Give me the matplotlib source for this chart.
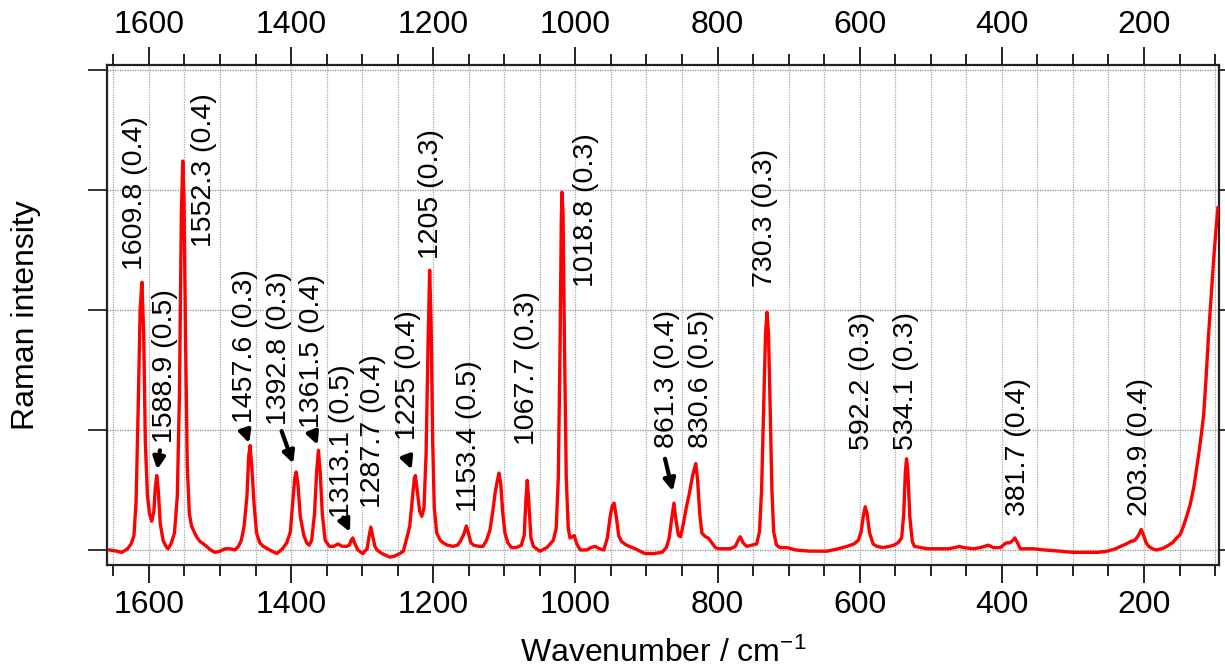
import matplotlib
matplotlib.use("Agg")
import matplotlib.pyplot as plt
from matplotlib.ticker import MultipleLocator, NullFormatter

plt.rcParams["font.family"] = ["Liberation Sans", "DejaVu Sans"]
plt.rcParams["mathtext.default"] = "regular"

# --- spectrum (wavenumber / cm-1, intensity in arbitrary units) ---
wavenumber = [
    1655, 1645, 1638, 1630, 1625, 1621, 1618, 1615, 1612.3, 1609.8, 1607.3, 1605,
    1602, 1599, 1596, 1593, 1591, 1588.9, 1586.8, 1584, 1580, 1576, 1573, 1569,
    1564, 1560, 1557, 1554.3, 1552.3, 1550.5, 1548.5, 1546, 1543, 1540, 1537, 1533,
    1528, 1523, 1519, 1513, 1507, 1500, 1493, 1486, 1479, 1474, 1470, 1466, 1462,
    1459.6, 1457.6, 1455.3, 1452, 1448.5, 1444, 1439, 1430, 1420, 1412, 1406, 1401,
    1397.5, 1394.8, 1392.8, 1390.3, 1387, 1382, 1378, 1374.5, 1371, 1367, 1364,
    1361.5, 1359, 1356, 1352, 1346, 1340, 1334, 1328, 1322, 1318, 1315.5, 1313.1,
    1310.8, 1306, 1299, 1293, 1290, 1287.7, 1285.3, 1282, 1279, 1272, 1261, 1254,
    1247, 1242, 1238, 1233, 1229, 1226.5, 1225, 1222.5, 1219, 1216, 1213, 1210,
    1207.3, 1205, 1203, 1200.7, 1198.5, 1195, 1190, 1186, 1180, 1172, 1166, 1162,
    1157, 1153.4, 1150, 1147, 1143, 1136, 1130, 1125, 1120, 1116, 1113, 1110,
    1107.5, 1105, 1102, 1099, 1095, 1090, 1083, 1076, 1072, 1069.5, 1067.7, 1065.5,
    1062.5, 1059, 1050, 1040, 1031, 1027, 1024, 1021.5, 1019.8, 1018.8, 1017.3,
    1015.3, 1012.8, 1010, 1007.5, 1004, 1001.5, 998, 993, 984, 978, 972, 966, 960,
    955, 951, 948, 945.5, 942.5, 939, 935, 928, 916, 902, 890, 878, 872, 868, 864,
    861.3, 859, 855, 852, 848, 844, 840, 835, 830.6, 828, 825, 822, 817, 813, 808,
    803, 798, 790, 782, 775, 771, 768, 764, 759, 752, 745, 741, 738, 735, 732.5,
    730.3, 728.3, 726, 723.5, 721, 717, 712, 702, 690, 670, 646, 630, 618, 608, 602,
    598, 595, 592.2, 589.5, 586, 581, 576, 567, 558, 552, 546, 541, 538, 535.8,
    534.1, 532.2, 529.5, 526, 523, 514, 505, 490, 475, 466, 460, 454, 440, 430, 419,
    412, 402, 396, 393, 389, 384.5, 381.7, 378, 374, 356, 340, 318, 300, 285, 265,
    252, 240, 233, 225, 219, 213, 208, 203.9, 200.5, 197, 193.5, 188, 183, 175, 168,
    160, 154, 149, 145, 140, 135, 130, 126, 122, 119, 116, 112.5, 109, 105.5, 102,
    99, 96,
]
intensity = [
    0.00, -0.01, -0.02, 0.01, 0.05, 0.12, 0.40, 1.20, 2.00, 2.23, 1.80, 0.90,
    0.45, 0.30, 0.24, 0.32, 0.52, 0.62, 0.50, 0.22, 0.08, 0.03, 0.01, 0.05,
    0.14, 0.45, 1.30, 2.80, 3.24, 2.90, 1.80, 0.70, 0.30, 0.20, 0.16, 0.11,
    0.07, 0.05, 0.03, 0.00, -0.02, -0.01, 0.01, 0.01, 0.00, 0.03, 0.08, 0.20, 0.45,
    0.78, 0.87, 0.70, 0.38, 0.14, 0.06, 0.03, 0.00, -0.03, 0.01, 0.06, 0.15,
    0.40, 0.60, 0.65, 0.55, 0.28, 0.12, 0.06, 0.04, 0.08, 0.30, 0.65,
    0.83, 0.65, 0.30, 0.08, 0.03, 0.03, 0.05, 0.03, 0.03, 0.04, 0.08, 0.10,
    0.06, 0.00, -0.03, 0.01, 0.12, 0.19, 0.12, 0.03, 0.00, -0.03, -0.06, -0.05,
    -0.03, -0.01, 0.08, 0.20, 0.45, 0.60, 0.62, 0.50, 0.32, 0.28, 0.35, 0.80,
    1.70, 2.33, 1.90, 0.90, 0.35, 0.14, 0.08, 0.06, 0.04, 0.03, 0.04, 0.07,
    0.13, 0.20, 0.13, 0.06, 0.04, 0.03, 0.03, 0.08, 0.17, 0.33, 0.47, 0.57,
    0.64, 0.55, 0.30, 0.14, 0.06, 0.02, 0.02, 0.04, 0.12, 0.42, 0.58, 0.40,
    0.10, 0.03, -0.01, 0.02, 0.08, 0.18, 0.60, 1.70, 2.75, 2.98, 2.80,
    1.70, 0.60, 0.18, 0.10, 0.11, 0.12, 0.05, 0.00, 0.00, 0.02, 0.03, 0.01, 0.00,
    0.10, 0.28, 0.37, 0.39, 0.28, 0.12, 0.07, 0.04, 0.01, -0.03, -0.03, -0.02, 0.02, 0.10, 0.28,
    0.39, 0.27, 0.12, 0.11, 0.22, 0.35, 0.46, 0.62, 0.72, 0.58, 0.30, 0.14, 0.11, 0.10, 0.06,
    0.02, 0.01, 0.01, 0.01, 0.03, 0.08, 0.11, 0.06, 0.03, 0.04, 0.05, 0.15, 0.50, 1.20, 1.80,
    1.98, 1.80, 1.20, 0.50, 0.15, 0.04, 0.02, 0.02, 0.00, -0.01, -0.01, 0.01, 0.03, 0.05, 0.08,
    0.15, 0.28, 0.36, 0.30, 0.14, 0.05, 0.03, 0.02, 0.03, 0.04, 0.06, 0.10, 0.30, 0.65,
    0.76, 0.65, 0.28, 0.07, 0.03, 0.02, 0.01, 0.01, 0.01, 0.02, 0.03, 0.02, 0.01, 0.02, 0.04,
    0.02, 0.02, 0.05, 0.06, 0.06, 0.08, 0.10, 0.06, 0.01, 0.01, 0.00, -0.01, -0.02, -0.02, -0.02,
    -0.01, 0.01, 0.03, 0.05, 0.07, 0.08, 0.12, 0.17, 0.12, 0.06, 0.03, 0.01, 0.00, 0.01, 0.03,
    0.06, 0.10, 0.13, 0.19, 0.28, 0.38, 0.52, 0.68, 0.84, 0.98, 1.13, 1.45, 1.81, 2.12, 2.42,
    2.65, 2.85,
]

# --- fitted band positions and their uncertainties ---
peak_pos = [1609.8, 1588.9, 1552.3, 1457.6, 1392.8, 1361.5, 1313.1, 1287.7, 1225,
            1205, 1153.4, 1067.7, 1018.8, 861.3, 830.6, 730.3, 592.2, 534.1,
            381.7, 203.9]
peak_err = [0.4, 0.5, 0.4, 0.3, 0.3, 0.4, 0.5, 0.4, 0.4,
            0.3, 0.5, 0.3, 0.3, 0.4, 0.5, 0.3, 0.3, 0.3,
            0.4, 0.4]

# label placement (x, bottom of the rotated text) in data units
label_x = [1619.7, 1577.5, 1522.6, 1465.0, 1417.0, 1370.0, 1329.0, 1284.8, 1235.5,
           1203.0, 1149.7, 1067.4, 985.0, 871.6, 823.4, 733.0, 597.0, 534.7,
           377.0, 205.5]
label_y = [2.33, 0.89, 2.52, 1.06, 1.04, 1.02, 0.27, 0.35, 0.92,
           2.42, 0.32, 0.875, 2.19, 0.85, 0.85, 2.19, 0.83, 0.83,
           0.28, 0.28]

# arrows for the crowded bands: peak -> (tail, tip)
arrows = {
    1588.9: ((1584.5, 0.83), (1588.3, 0.67)),
    1457.6: ((1465.0, 1.00), (1459.0, 0.89)),
    1392.8: ((1413.3, 0.99), (1396.9, 0.72)),
    1361.5: ((1369.2, 0.975), (1362.6, 0.875)),
    1313.1: ((1326.6, 0.27), (1317.1, 0.15)),
    1225: ((1237.4, 0.78), (1230.3, 0.67)),
    861.3: ((873.9, 0.76), (863.0, 0.49)),
}

fig = plt.figure(figsize=(12.25, 6.69), dpi=100)
ax = fig.add_axes([0.0873, 0.1555, 0.9078, 0.7473])

ax.plot(wavenumber, intensity, color="#ff0000", lw=2.4, solid_joinstyle="round", zorder=3)

for p, e, tx, ty in zip(peak_pos, peak_err, label_x, label_y):
    ax.text(tx, ty, f"{p:g} ({e:g})", rotation=90, ha="center", va="bottom",
            fontsize=20.5, color="black", zorder=4)
    if p in arrows:
        tail, tip = arrows[p]
        ax.annotate("", xy=tip, xytext=tail,
                    arrowprops=dict(arrowstyle="-|>,head_length=0.5,head_width=0.25",
                                    lw=3, color="black", shrinkA=0, shrinkB=0,
                                    mutation_scale=14),
                    zorder=4)

ax.set_xlim(1659, 94.5)
ax.set_ylim(-0.125, 4.04)

ax.xaxis.set_major_locator(MultipleLocator(200))
ax.xaxis.set_minor_locator(MultipleLocator(50))
ax.yaxis.set_major_locator(MultipleLocator(1))
ax.yaxis.set_major_formatter(NullFormatter())

ax.tick_params(axis="x", which="both", top=True, labeltop=True, direction="out",
               labelsize=23, colors="#222222", width=1.4, pad=5)
ax.tick_params(axis="x", which="major", length=13)
ax.tick_params(axis="x", which="minor", length=8)
ax.tick_params(axis="y", which="major", left=True, right=True, direction="out",
               length=14, width=1.4, colors="#333333")
for lbl in ax.get_xticklabels():
    lbl.set_color("black")

ax.grid(True, which="both", axis="x", color="#a8a8a8", lw=0.9, ls=(0, (1, 1)))
ax.grid(True, which="major", axis="y", color="#8a8a8a", lw=0.9, ls=(0, (1, 1)))
ax.set_axisbelow(True)

for side in ["left", "right", "top", "bottom"]:
    ax.spines[side].set_linewidth(1.6)
    ax.spines[side].set_color("#222222")

ax.set_xlabel("Wavenumber / cm$^{-1}$", fontsize=23, labelpad=12.5)
ax.set_ylabel("Raman intensity", fontsize=23, labelpad=30)

fig.savefig("out.png", dpi=100)
